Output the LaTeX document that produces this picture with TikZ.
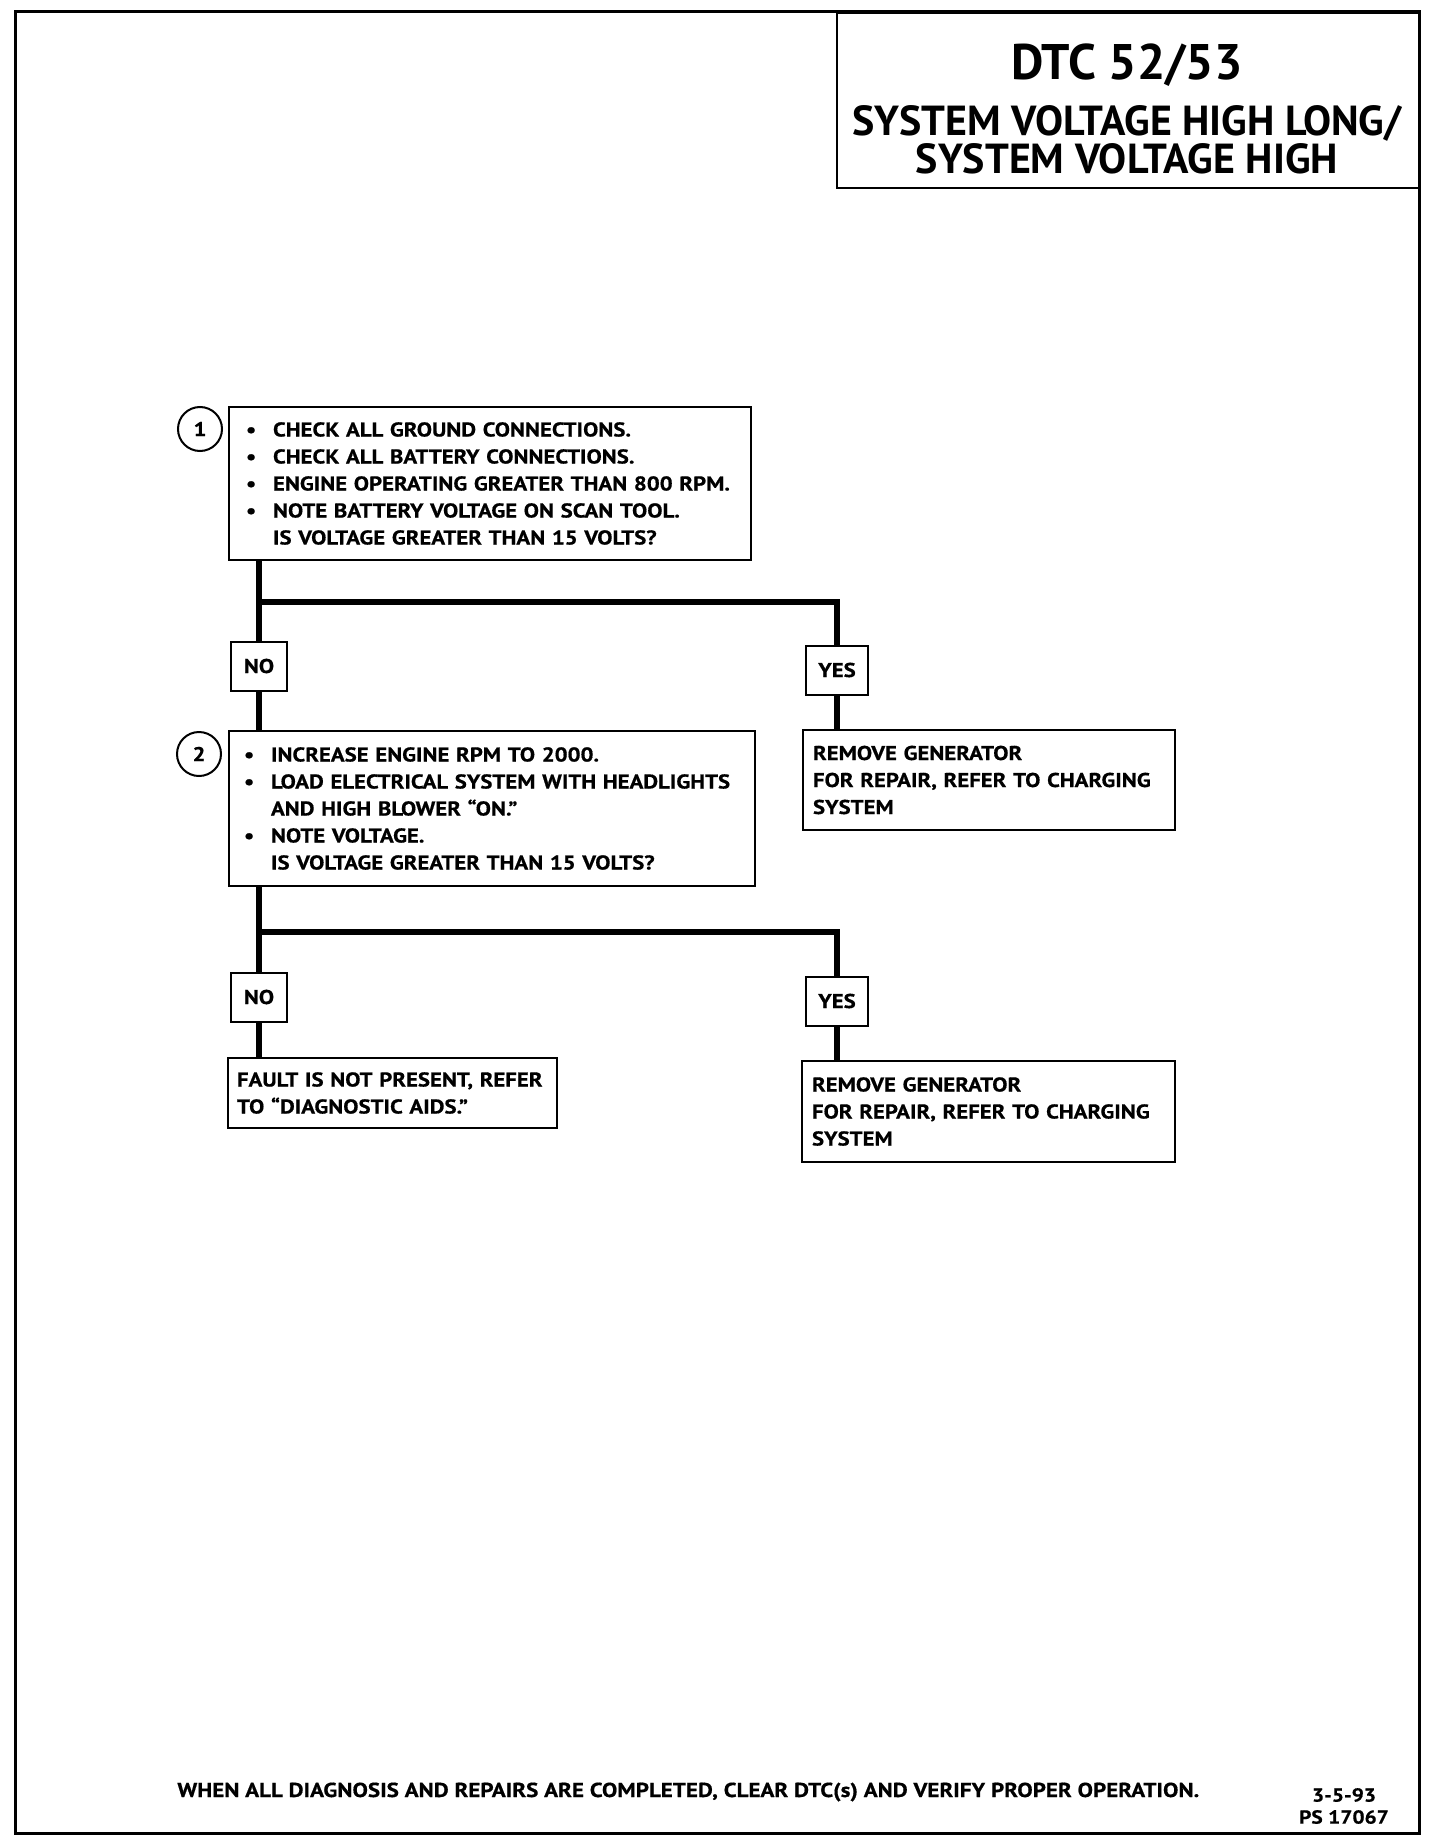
\documentclass[tikz,border=0pt]{standalone}
\usepackage{fontspec}
\setmainfont{PT Sans}
\newfontfamily\boxfont{PT Sans}[FakeStretch=1.14, FakeBold=0.6]
\usepackage{tikz}
\usetikzlibrary{positioning}

\newcommand{\bul}{\makebox[13.5pt][l]{\textbullet}}
\newcommand{\ind}{\hspace*{13.5pt}}

\begin{document}
\begin{tikzpicture}[x=0.5pt, y=-0.5pt,
    txt/.style     ={font=\boxfont\bfseries\fontsize{10}{13.5}\selectfont},
    frame/.style   ={line width=1.5pt},
    titlebox/.style={draw, line width=1.2pt, anchor=north west, inner sep=0pt,
                     minimum width=291.5pt, minimum height=87.5pt},
    stepbox/.style ={draw, line width=1pt, txt, align=left, anchor=north west,
                     inner ysep=0pt},
    answer/.style  ={draw, line width=1pt, txt, inner sep=0pt,
                     minimum width=28pt, minimum height=24.5pt},
    stepnum/.style ={circle, draw, line width=1pt, txt, minimum size=22pt,
                     inner sep=0pt},
    flow/.style    ={line width=3pt}
  ]
    \useasboundingbox (0,0) rectangle (1440,1846);
    \draw[frame] (15,12) rectangle (1419,1833);

    % --- title block ---
    \node[titlebox] (title) at (836,12) {};
    \node[font=\bfseries\fontsize{25}{25}\selectfont] (dtc) at (1127,65) {DTC 52/53};
    \node[font=\bfseries\fontsize{21}{19}\selectfont, align=center] (sub)
      at (1127,140) {SYSTEM VOLTAGE HIGH LONG/\\SYSTEM VOLTAGE HIGH};

    % --- step 1 ---
    \node[stepnum] (n1) at (200,429) {1};
    \node[stepbox, inner xsep=8.5pt, text width=244pt, minimum height=76.5pt]
      (box1) at (228,406) {%
      \bul CHECK ALL GROUND CONNECTIONS.\\
      \bul CHECK ALL BATTERY CONNECTIONS.\\
      \bul ENGINE OPERATING GREATER THAN 800 RPM.\\
      \bul NOTE BATTERY VOLTAGE ON SCAN TOOL.\\
      \ind IS VOLTAGE GREATER THAN 15 VOLTS?};
    \node[answer] (no1)  at (259,666) {NO};
    \node[answer, minimum width=31pt] (yes1) at (837,670) {YES};
    \coordinate (j1) at (259,602);

    % --- step 2 ---
    \node[stepnum] (n2) at (199,754) {2};
    \node[stepbox, inner xsep=7.5pt, text width=248pt, minimum height=77.5pt]
      (box2) at (228,730) {%
      \bul INCREASE ENGINE RPM TO 2000.\\
      \bul LOAD ELECTRICAL SYSTEM WITH HEADLIGHTS\\
      \ind AND HIGH BLOWER “ON.”\\
      \bul NOTE VOLTAGE.\\
      \ind IS VOLTAGE GREATER THAN 15 VOLTS?};
    \node[stepbox, inner xsep=5pt, text width=176pt, minimum height=50pt]
      (gen1) at (802,729) {%
      REMOVE GENERATOR\\
      FOR REPAIR, REFER TO CHARGING\\
      SYSTEM};
    \node[answer] (no2)  at (259,997) {NO};
    \node[answer, minimum width=31pt] (yes2) at (837,1001) {YES};
    \coordinate (j2) at (259,932);

    % --- results ---
    \node[stepbox, inner xsep=4.5pt, text width=155.5pt, minimum height=35pt]
      (fault) at (227,1057) {%
      FAULT IS NOT PRESENT, REFER\\
      TO “DIAGNOSTIC AIDS.”};
    \node[stepbox, inner xsep=5pt, text width=176.5pt, minimum height=50.5pt]
      (gen2) at (801,1060) {%
      REMOVE GENERATOR\\
      FOR REPAIR, REFER TO CHARGING\\
      SYSTEM};

    % --- flow lines ---
    \draw[flow] (box1.south -| no1) -- (no1.north);
    \draw[flow] (j1) -| (yes1.north);
    \draw[flow] (no1.south) -- (box2.north -| no1);
    \draw[flow] (yes1.south) -- (gen1.north -| yes1);
    \draw[flow] (box2.south -| no2) -- (no2.north);
    \draw[flow] (j2) -| (yes2.north);
    \draw[flow] (no2.south) -- (fault.north -| no2);
    \draw[flow] (yes2.south) -- (gen2.north -| yes2);

    % --- footer ---
    \node[txt, font=\boxfont\bfseries\fontsize{10.1}{10.1}\selectfont, anchor=west,
      inner sep=0pt] (note)
      at (177,1792) {WHEN ALL DIAGNOSIS AND REPAIRS ARE COMPLETED, CLEAR DTC(s) AND VERIFY PROPER OPERATION.};
    \node[txt, font=\boxfont\bfseries\fontsize{9.4}{11}\selectfont, align=center] (stamp)
      at (1344,1806) {3-5-93\\PS 17067};
  \end{tikzpicture}
\end{document}
